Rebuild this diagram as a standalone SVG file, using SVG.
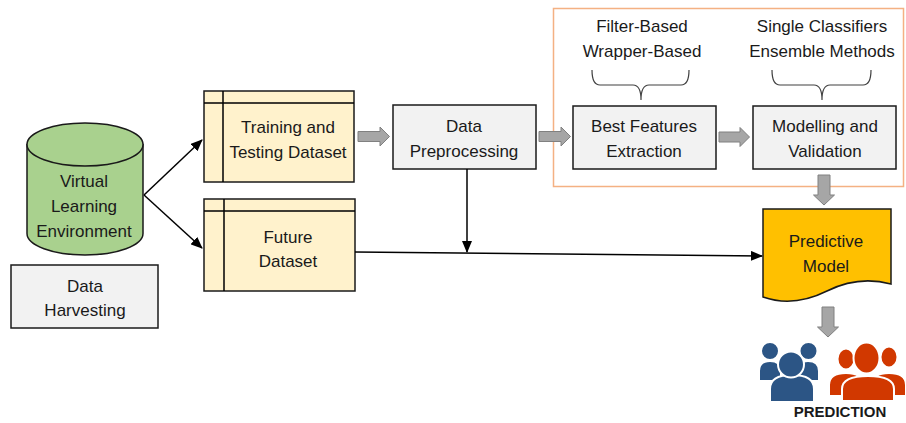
<svg xmlns="http://www.w3.org/2000/svg" width="906" height="423" viewBox="0 0 906 423">
<defs>
<style>
text{font-family:"Liberation Sans",Arial,sans-serif;font-size:17px;fill:#1a1a1a;text-anchor:middle}
.box{stroke:#1a1a1a;stroke-width:1.5}
.gray{fill:#f2f2f2}
.yel{fill:#fff2cc}
.ln{fill:none;stroke:#000;stroke-width:1.5}
.blk{fill:#a6a6a6;stroke:#808080;stroke-width:1}
.brace{fill:none;stroke:#404040;stroke-width:1.2}
</style>
<marker id="ah" markerWidth="12" markerHeight="10" refX="11" refY="5" orient="auto" markerUnits="userSpaceOnUse">
<path d="M0,0 L12,5 L0,10 Z" fill="#000"/>
</marker>
</defs>
<rect width="906" height="423" fill="#fff"/>

<g id="frame">
<rect x="553.5" y="8.5" width="350" height="178" fill="none" stroke="#f4b183" stroke-width="1.5"/>
</g>

<g id="labels-top">
<text x="642" y="32">Filter-Based</text>
<text x="642" y="57">Wrapper-Based</text>
<path class="brace" d="M592,70 Q592,85 600,85 H633 Q641,85 641,100 Q641,85 649,85 H681 Q689,85 689,70"/>
<text x="822" y="32">Single Classifiers</text>
<text x="822" y="57">Ensemble Methods</text>
<path class="brace" d="M772,70 Q772,85 780,85 H814 Q822,85 822,100 Q822,85 830,85 H863 Q871,85 871,70"/>
</g>

<g id="vle">
<path d="M27,144.5 V233.5 A58,21.5 0 0 0 143,233.5 V144.5 Z" fill="#a9d18e" class="box"/>
<ellipse cx="85" cy="144.5" rx="58" ry="21.5" fill="#a9d18e" class="box"/>
<text x="84" y="187">Virtual</text>
<text x="84" y="212">Learning</text>
<text x="84" y="237">Environment</text>
</g>

<g id="harvest">
<rect x="11" y="265" width="147" height="63" class="box gray"/>
<text x="85" y="292">Data</text>
<text x="85" y="316">Harvesting</text>
</g>

<g id="training">
<rect x="204" y="91" width="150" height="91" class="box yel"/>
<path d="M223,91 V182 M204,103 H354" class="ln"/>
<text x="288" y="133">Training and</text>
<text x="288" y="158">Testing Dataset</text>
</g>

<g id="future">
<rect x="204" y="199" width="151" height="92" class="box yel"/>
<path d="M224,199 V291 M204,211 H355" class="ln"/>
<text x="288" y="243">Future</text>
<text x="288" y="267">Dataset</text>
</g>

<g id="preproc">
<rect x="393" y="105" width="143" height="64" class="box gray"/>
<text x="464" y="132">Data</text>
<text x="464" y="157">Preprocessing</text>
</g>

<g id="features">
<rect x="573" y="106" width="143" height="63" class="box gray"/>
<text x="644" y="132">Best Features</text>
<text x="644" y="157">Extraction</text>
</g>

<g id="modelling">
<rect x="753" y="106" width="143" height="63" class="box gray"/>
<text x="825" y="132">Modelling and</text>
<text x="825" y="157">Validation</text>
</g>

<g id="predictive">
<path d="M763,209 H891 V284 C865,277 845,282 827,291 C805,302 783,304 763,297 Z" fill="#ffc000" class="box"/>
<text x="826" y="247">Predictive</text>
<text x="826" y="272">Model</text>
</g>

<g id="connectors">
<path class="ln" d="M144,195 L202,140" marker-end="url(#ah)"/>
<path class="ln" d="M144,195 L202,248" marker-end="url(#ah)"/>
<path class="ln" d="M467,169 V252" marker-end="url(#ah)"/>
<path class="ln" d="M355,252 L762,256" marker-end="url(#ah)"/>
<path class="blk" d="M358,131.5 H380 V127 L389.5,136.5 L380,146 V141.5 H358 Z"/>
<path class="blk" d="M539,131.5 H561 V127 L570.5,136.5 L561,146 V141.5 H539 Z"/>
<path class="blk" d="M719,132 H740 V127.5 L749.5,137 L740,146.5 V142 H719 Z"/>
<path class="blk" d="M818,175 V195 H813.5 L824,205 L834.5,195 H830 V175 Z"/>
<path class="blk" d="M822,307 V327 H817.5 L828,337 L838.5,327 H834 V307 Z"/>
</g>

<g id="prediction">
<g fill="#2c5585" stroke="#fff" stroke-width="2">
<path d="M759,381 V371 Q759,361 770,361 Q781,361 781,371 V381 Z"/>
<path d="M797,381 V371 Q797,361 808,361 Q819,361 819,371 V381 Z"/>
<circle cx="770" cy="351" r="9"/>
<circle cx="808.5" cy="351" r="9"/>
<path d="M770,402 V389 Q770,375 792,375 Q814,375 814,389 V402 Z"/>
<circle cx="791" cy="364.5" r="13"/>
</g>
<g fill="#d13800" stroke="#fff" stroke-width="2">
<path d="M829,396 V385 Q829,373 846,373 Q863,373 863,385 V396 Z"/>
<ellipse cx="846" cy="359" rx="8.5" ry="10.5"/>
<path d="M872,396 V385 Q872,373 889,373 Q906,373 906,385 V396 Z"/>
<ellipse cx="889" cy="357" rx="8.5" ry="10.5"/>
<path d="M842,401 V389 Q842,376 868,376 Q894,376 894,389 V401 Z"/>
<ellipse cx="866.5" cy="358" rx="13" ry="15.5"/>
</g>
<text x="840" y="417" style="font-weight:bold;font-size:15px">PREDICTION</text>
</g>
</svg>
